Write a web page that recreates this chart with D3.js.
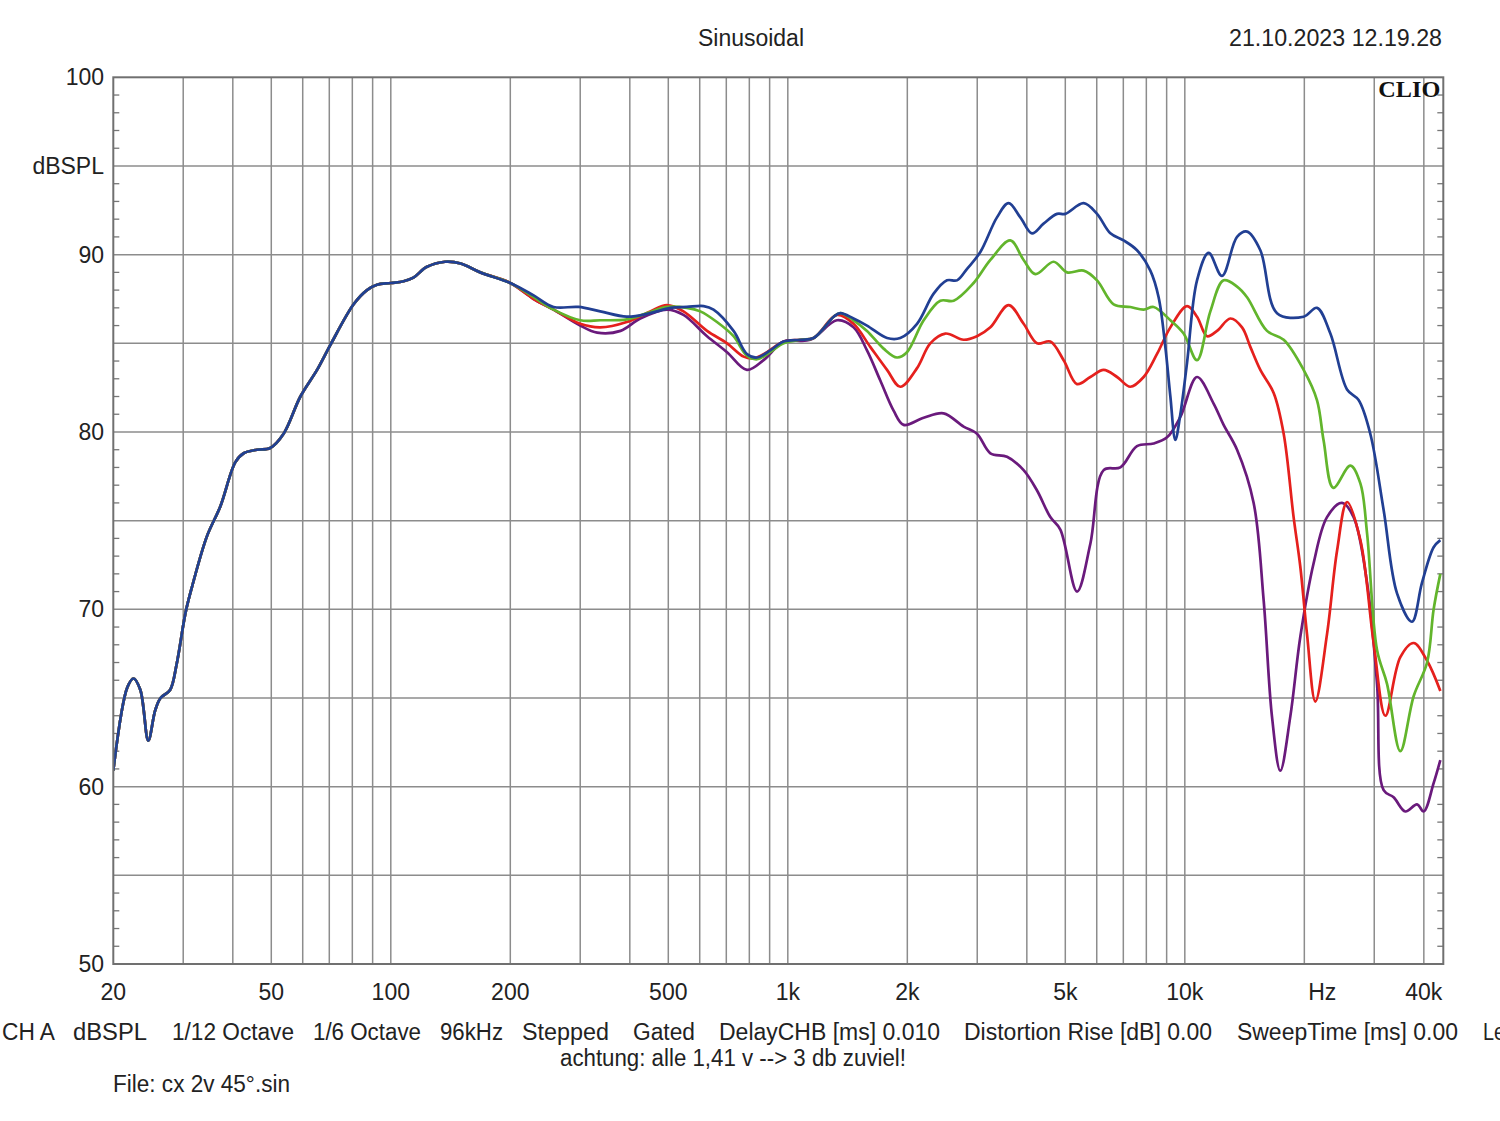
<!DOCTYPE html>
<html><head><meta charset="utf-8">
<script src="https://cdn.jsdelivr.net/npm/d3@7"></script>
<style>
html,body{margin:0;padding:0;background:#fff;}
svg text{font-family:"Liberation Sans",Arial,sans-serif;fill:#222;}
</style></head>
<body>
<svg id="chart" width="1500" height="1121"></svg>
<script>
// ---- data ----
const title = "Sinusoidal";
const dateText = "21.10.2023 12.19.28";
const yTicks = [50, 60, 70, 80, 90, 100];
const xTickValues = [20, 50, 100, 200, 500, 1000, 2000, 5000, 10000, 20000, 40000];
const xTickLabels = ["20", "50", "100", "200", "500", "1k", "2k", "5k", "10k", "Hz", "40k"];
const gridFreqs = [20,30,40,50,60,70,80,90,100,200,300,400,500,600,700,800,900,1000,2000,3000,4000,5000,6000,7000,8000,9000,10000,20000,30000,40000];

// shared low-frequency part (all four curves coincide)
const lowFreq = [20, 21.7, 22.5, 23.4, 24.5, 25.5, 26.3, 27.8, 28.9, 30.4, 31.6, 34.4, 37.2, 40.6, 42.6, 46.0, 49.7, 53.7, 59.2, 65.2, 70.4, 80.6, 87.1, 92.3, 100, 107.7, 114, 123, 137, 150, 168];
const lowDb   = [60.9, 65.6, 66.1, 65.45, 62.6, 64.3, 65.0, 65.45, 66.95, 69.8, 71.3, 74.1, 75.8, 78.3, 78.8, 79.0, 79.1, 79.9, 82.0, 83.5, 84.9, 87.2, 88.0, 88.3, 88.4, 88.5, 88.7, 89.3, 89.6, 89.5, 89.0];

const blueFreq = [200, 229, 257, 297, 337, 393, 450, 506, 557, 614, 650, 730, 789, 837, 903, 976, 1075, 1162, 1305, 1356, 1464, 1583, 1778, 1920, 2116, 2330, 2518, 2668, 2828, 3055, 3364, 3598, 3852, 4122, 4408, 4767, 5000, 5560, 6010, 6494, 7012, 7578, 8188, 8590, 8932, 9196, 9466, 9744, 10130, 10734, 11482, 12408, 13538, 14346, 15496, 17072, 19918, 21520, 23260, 25620, 27400, 29320, 31680, 34240, 37340, 39580, 42340, 44020];
const blueDb   = [88.4, 87.7, 87.05, 87.05, 86.8, 86.5, 86.7, 87.0, 87.05, 87.1, 86.9, 85.7, 84.4, 84.2, 84.6, 85.1, 85.2, 85.3, 86.5, 86.7, 86.4, 86.0, 85.3, 85.3, 86.1, 87.8, 88.55, 88.55, 89.2, 90.15, 92.1, 92.9, 92.1, 91.2, 91.75, 92.3, 92.3, 92.9, 92.3, 91.2, 90.8, 90.25, 89.1, 87.6, 84.8, 82.0, 79.55, 81.0, 83.9, 88.55, 90.1, 88.8, 91.0, 91.3, 90.25, 86.7, 86.5, 87.0, 85.55, 82.4, 81.8, 79.9, 75.6, 70.9, 69.3, 71.5, 73.5, 73.9];

const greenFreq = [200, 229, 257, 300, 337, 393, 442, 496, 557, 602, 663, 730, 789, 837, 903, 976, 1075, 1162, 1305, 1356, 1464, 1583, 1743, 1884, 1996, 2199, 2422, 2617, 2938, 3238, 3634, 3926, 4202, 4672, 5052, 5560, 6010, 6618, 7290, 7876, 8346, 9196, 9931, 10734, 11596, 12524, 13538, 14346, 16108, 17742, 19918, 21520, 22372, 23660, 26120, 27680, 28774, 30490, 32310, 34900, 37700, 40760, 42340, 44020];
const greenDb   = [88.4, 87.6, 86.9, 86.3, 86.3, 86.35, 86.7, 87.05, 87.0, 86.8, 86.2, 85.4, 84.3, 84.1, 84.5, 85.0, 85.2, 85.3, 86.5, 86.7, 86.3, 85.7, 84.7, 84.2, 84.5, 86.3, 87.4, 87.4, 88.4, 89.7, 90.8, 89.7, 88.9, 89.6, 89.0, 89.1, 88.55, 87.2, 87.05, 86.9, 87.05, 86.3, 85.55, 84.05, 86.8, 88.55, 88.2, 87.6, 85.7, 85.2, 83.5, 81.8, 79.5, 76.85, 78.1, 77.1, 74.3, 67.7, 65.8, 62.0, 65.1, 67.0, 70.0, 72.0];

const redFreq = [200, 229, 257, 300, 337, 393, 450, 496, 546, 626, 703, 774, 820, 886, 976, 1075, 1162, 1330, 1464, 1613, 1778, 1920, 2116, 2285, 2493, 2772, 2996, 3238, 3598, 3926, 4244, 4584, 4952, 5352, 5782, 6246, 6750, 7290, 7876, 8512, 9196, 10130, 10734, 11376, 12054, 13022, 13936, 14622, 15496, 16742, 17742, 18794, 19540, 20314, 21318, 22814, 24180, 25620, 27680, 29900, 32000, 34900, 37700, 40760, 44020];
const redDb   = [88.4, 87.5, 86.9, 86.1, 85.9, 86.2, 86.8, 87.15, 86.8, 85.7, 85.0, 84.25, 84.15, 84.5, 85.1, 85.2, 85.3, 86.6, 86.1, 84.8, 83.5, 82.55, 83.6, 85.0, 85.55, 85.2, 85.4, 85.9, 87.15, 86.1, 85.0, 85.1, 84.05, 82.7, 83.1, 83.5, 83.1, 82.55, 83.1, 84.4, 85.9, 87.1, 86.5, 85.4, 85.7, 86.4, 85.9, 84.8, 83.5, 82.2, 79.9, 75.2, 72.4, 68.6, 64.8, 68.6, 73.3, 76.05, 73.9, 68.1, 64.0, 67.3, 68.1, 67.1, 65.4];

const purpleFreq = [200, 229, 257, 300, 331, 379, 425, 496, 546, 626, 703, 789, 869, 976, 1139, 1330, 1464, 1583, 1710, 1847, 1958, 2199, 2468, 2772, 2996, 3238, 3566, 3926, 4244, 4584, 4858, 5352, 5782, 6246, 6880, 7578, 8346, 9020, 9744, 10734, 11818, 12524, 13538, 14906, 15798, 16580, 17398, 18436, 19540, 21108, 22814, 24890, 26620, 28774, 30490, 31680, 33570, 35930, 38450, 39960, 42340, 44020];
const purpleDb   = [88.4, 87.5, 86.9, 86.0, 85.6, 85.7, 86.4, 86.9, 86.6, 85.4, 84.5, 83.5, 84.05, 85.1, 85.2, 86.3, 85.9, 84.6, 82.9, 81.2, 80.4, 80.8, 81.05, 80.3, 79.9, 78.8, 78.6, 77.85, 76.7, 75.2, 74.5, 71.0, 73.7, 77.85, 78.0, 79.2, 79.35, 79.7, 80.85, 83.1, 81.6, 80.4, 79.0, 76.0, 70.5, 63.95, 60.9, 63.95, 68.45, 72.6, 75.2, 76.0, 75.2, 71.5, 65.8, 59.8, 59.4, 58.6, 59.0, 58.6, 60.2, 61.5];

const seriesNames = ["purple", "red", "green", "blue"];
const seriesColors = ["#6a1a7c", "#e5201d", "#62b52c", "#213f93"];

const footer1 = [
  ["CH A", 2, 53], ["dBSPL", 73, 74], ["1/12 Octave", 172, 122], ["1/6 Octave", 313, 108],
  ["96kHz", 440, 63], ["Stepped", 522, 87], ["Gated", 633, 62], ["DelayCHB [ms] 0.010", 719, 221],
  ["Distortion Rise [dB] 0.00", 964, 248], ["SweepTime [ms] 0.00", 1237, 221], ["Le", 1483, 22]
];
const footer2 = "achtung: alle 1,41 v --> 3 db zuviel!";
const fileText = "File: cx 2v 45°.sin";

// ---- layout ----
const L = 113.3, R = 1443.3, T = 77.3, B = 964;
const x = d3.scaleLog().domain([20, 44780]).range([L, R]);
const y = d3.scaleLinear().domain([50, 100]).range([B, T]);

const svg = d3.select("#chart");
const gridColor = "#8c8c8c";

// horizontal grid
svg.append("g").selectAll("line").data(d3.range(55, 100, 5)).join("line")
  .attr("x1", L).attr("x2", R).attr("y1", d => y(d)).attr("y2", d => y(d))
  .attr("stroke", gridColor).attr("stroke-width", 1.5);
// vertical grid
svg.append("g").selectAll("line").data(gridFreqs.filter(f => f > 20)).join("line")
  .attr("x1", d => x(d)).attr("x2", d => x(d)).attr("y1", T).attr("y2", B)
  .attr("stroke", gridColor).attr("stroke-width", 1.5);

// minor ticks left/right
const minor = d3.range(51, 100, 1).filter(v => v % 5 !== 0);
svg.append("g").selectAll("line").data(minor).join("line")
  .attr("x1", L).attr("x2", L + 6).attr("y1", d => y(d)).attr("y2", d => y(d))
  .attr("stroke", "#777").attr("stroke-width", 1.3);
svg.append("g").selectAll("line").data(minor).join("line")
  .attr("x1", R - 6).attr("x2", R).attr("y1", d => y(d)).attr("y2", d => y(d))
  .attr("stroke", "#777").attr("stroke-width", 1.3);

// curves
const line = d3.line().x(d => x(d[0])).y(d => y(d[1])).curve(d3.curveCatmullRom.alpha(0.5));
const allSeries = {
  purple: [purpleFreq, purpleDb], red: [redFreq, redDb],
  green: [greenFreq, greenDb], blue: [blueFreq, blueDb]
};
svg.append("clipPath").attr("id", "plotclip").append("rect")
  .attr("x", L).attr("y", T).attr("width", R - L).attr("height", B - T);
const curves = svg.append("g").attr("clip-path", "url(#plotclip)");
seriesNames.forEach((name, i) => {
  const [fs, ds] = allSeries[name];
  const pts = lowFreq.map((f, k) => [f, lowDb[k]]).concat(fs.map((f, k) => [f, ds[k]]));
  curves.append("path").datum(pts).attr("d", line)
    .attr("fill", "none").attr("stroke", seriesColors[i]).attr("stroke-width", 2.7)
    .attr("stroke-linejoin", "round");
});

// border
svg.append("rect").attr("x", L).attr("y", T).attr("width", R - L).attr("height", B - T)
  .attr("fill", "none").attr("stroke", "#707070").attr("stroke-width", 2);

// CLIO logo
svg.append("text").attr("x", R - 3).attr("y", T + 20).attr("text-anchor", "end")
  .attr("textLength", 62).attr("lengthAdjust", "spacingAndGlyphs")
  .style("font-family", "'Liberation Serif','DejaVu Serif',serif").style("font-weight", "bold")
  .style("font-size", "23px").style("fill", "#111").text("CLIO");

// y labels
svg.append("g").selectAll("text").data(yTicks).join("text")
  .attr("x", 104).attr("y", d => y(d) + 8).attr("text-anchor", "end")
  .style("font-size", "23px").text(d => d);
svg.append("text").attr("x", 104).attr("y", y(95) + 8).attr("text-anchor", "end")
  .style("font-size", "23px").text("dBSPL");

// x labels
svg.append("g").selectAll("text").data(xTickValues).join("text")
  .attr("x", d => x(d)).attr("dx", (d, i) => xTickLabels[i] === "Hz" ? 18 : 0)
  .attr("y", 1000).attr("text-anchor", "middle")
  .style("font-size", "23px").text((d, i) => xTickLabels[i]);

// title & date
svg.append("text").attr("x", 751).attr("y", 46).attr("text-anchor", "middle")
  .attr("textLength", 106).attr("lengthAdjust", "spacingAndGlyphs")
  .style("font-size", "23px").text(title);
svg.append("text").attr("x", 1229).attr("y", 46)
  .attr("textLength", 213).attr("lengthAdjust", "spacingAndGlyphs")
  .style("font-size", "23px").text(dateText);

// footer
svg.append("g").selectAll("text").data(footer1).join("text")
  .attr("x", d => d[1]).attr("y", 1040)
  .attr("textLength", d => d[2]).attr("lengthAdjust", "spacingAndGlyphs")
  .style("font-size", "23px").text(d => d[0]);
svg.append("text").attr("x", 560).attr("y", 1066).attr("textLength", 346)
  .attr("lengthAdjust", "spacingAndGlyphs").style("font-size", "23px").text(footer2);
svg.append("text").attr("x", 113).attr("y", 1092).attr("textLength", 177)
  .attr("lengthAdjust", "spacingAndGlyphs").style("font-size", "23px").text(fileText);
</script>
</body></html>
